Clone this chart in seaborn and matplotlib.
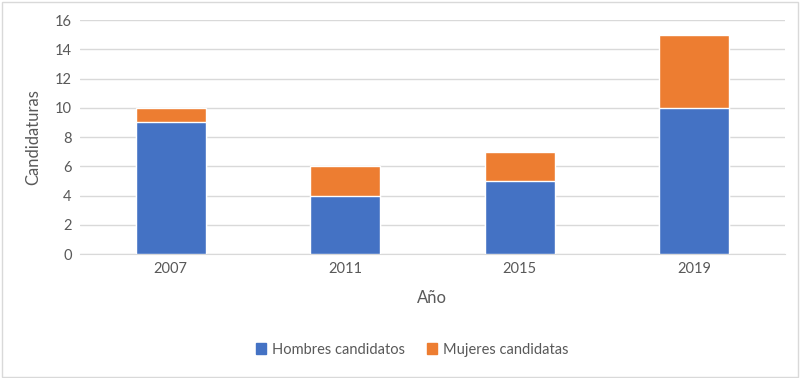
import pandas as pd
import seaborn as sns
import matplotlib.pyplot as plt
from matplotlib.patches import Patch, Rectangle

# Datos
anios = ["2007", "2011", "2015", "2019"]
hombres = [9, 4, 5, 10]
mujeres = [1, 2, 2, 5]

azul = "#4472C4"
naranja = "#ED7D31"

df = pd.DataFrame({"anio": anios, "hombres": hombres, "mujeres": mujeres})
df["total"] = df["hombres"] + df["mujeres"]

sns.set_style("white")
plt.rcParams["font.family"] = ["Lato", "DejaVu Sans"]

fig = plt.figure(figsize=(8, 3.78), dpi=100)
ax = fig.add_axes([0.1, 0.328, 0.881, 0.619])

# barras apiladas: total (naranja) debajo, hombres (azul) encima
sns.barplot(data=df, x="anio", y="total", color=naranja, width=0.4,
            saturation=1, ax=ax, zorder=3)
sns.barplot(data=df, x="anio", y="hombres", color=azul, width=0.4,
            saturation=1, ax=ax, zorder=3)

ax.set_ylim(0, 16)
ax.set_yticks(range(0, 17, 2))
ax.set_xlim(-0.52, 3.52)
ax.yaxis.grid(True, color="#D9D9D9", linewidth=1, zorder=0)
for s in ["top", "right", "left"]:
    ax.spines[s].set_visible(False)
ax.spines["bottom"].set_color("#D9D9D9")
ax.tick_params(axis="both", length=0, labelsize=10.5, colors="#595959", pad=6)

ax.set_xlabel("Año", fontsize=12, color="#595959", labelpad=10)
ax.set_ylabel("Candidaturas", fontsize=12, color="#595959", labelpad=10)

handles = [Patch(color=azul, label="Hombres candidatos"),
           Patch(color=naranja, label="Mujeres candidatas")]
fig.legend(handles=handles, loc="center", bbox_to_anchor=(0.515, 0.075),
           ncol=2, frameon=False, fontsize=10.5, handlelength=0.7,
           handleheight=0.7, columnspacing=1.5, handletextpad=0.4,
           labelcolor="#595959")

# borde del grafico
fig.patches.append(Rectangle((0.002, 0.003), 0.995, 0.993, transform=fig.transFigure,
                             fill=False, edgecolor="#D9D9D9", linewidth=1))

fig.savefig("out.png", dpi=100)
